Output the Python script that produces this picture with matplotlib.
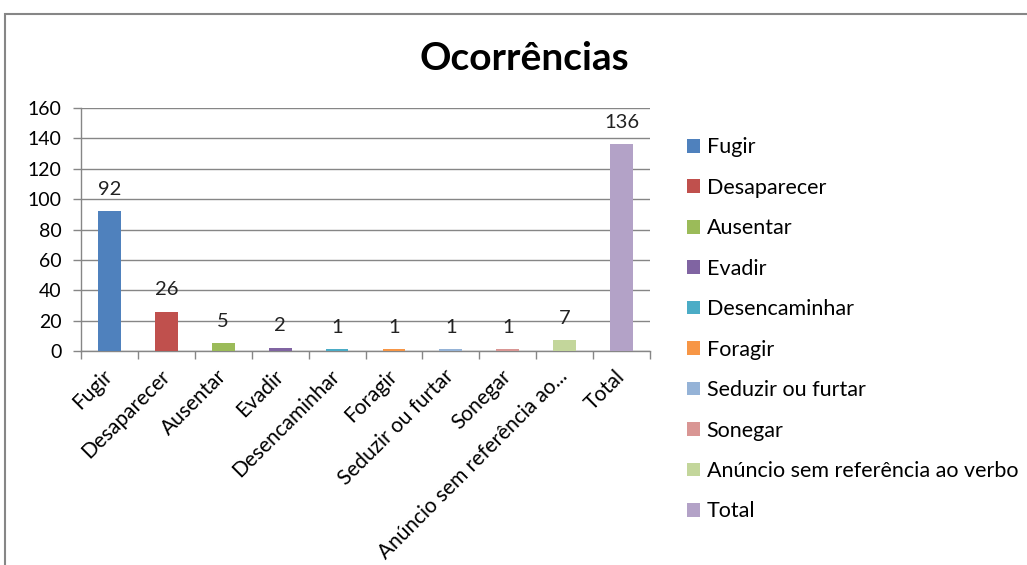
import matplotlib
matplotlib.use("Agg")
import matplotlib.pyplot as plt
from matplotlib.patches import Rectangle

categories = ["Fugir", "Desaparecer", "Ausentar", "Evadir", "Desencaminhar",
              "Foragir", "Seduzir ou furtar", "Sonegar",
              "Anúncio sem referência ao verbo", "Total"]
tick_labels = ["Fugir", "Desaparecer", "Ausentar", "Evadir", "Desencaminhar",
               "Foragir", "Seduzir ou furtar", "Sonegar",
               "Anúncio sem referência ao...", "Total"]
values = [92, 26, 5, 2, 1, 1, 1, 1, 7, 136]
colors = ["#4F81BD", "#C0504D", "#9BBB59", "#8064A2", "#4BACC6",
          "#F79646", "#95B3D7", "#D99694", "#C3D69B", "#B3A2C7"]
yticks = [0, 20, 40, 60, 80, 100, 120, 140, 160]

plt.rcParams['font.family'] = ['Lato', 'DejaVu Sans']

fig = plt.figure(figsize=(10.27, 5.65), dpi=100)
ax = fig.add_axes([81/1027, 1-351/565, (650-81)/1027, (351-108)/565])

# chart frame
fig.patches.append(Rectangle((5/1027, -0.05), 1.1, 1-14/565+0.05,
                             transform=fig.transFigure, fill=False,
                             edgecolor="#868686", linewidth=1.5))

x = list(range(len(categories)))
for i, (c, v, col) in enumerate(zip(categories, values, colors)):
    ax.bar(i, v, width=0.4, color=col, label=c, zorder=3)
    ax.text(i, v + 9, str(v), ha="center", va="bottom", fontsize=14.5, color="#222222")

ax.set_xlim(-0.5, len(categories) - 0.5)
ax.set_ylim(0, 160)
ax.set_yticks(yticks)
ax.set_yticklabels([str(t) for t in yticks], fontsize=14)
ax.yaxis.grid(True, color="#868686", linewidth=1, zorder=0)
ax.set_axisbelow(True)

ax.set_xticks([i - 0.5 for i in range(len(categories) + 1)], minor=False)
ax.set_xticklabels([])
ax.set_xticks(x, minor=True)
ax.set_xticklabels(tick_labels, minor=True, rotation=45, ha="right", va="center",
                   rotation_mode="anchor", fontsize=15)
ax.tick_params(axis="x", which="minor", length=0, pad=16)
ax.tick_params(axis="x", which="major", length=6, color="#868686", width=1)
ax.tick_params(axis="y", length=6, color="#868686", width=1, pad=8)

for s in ["top", "right"]:
    ax.spines[s].set_visible(False)
for s in ["left", "bottom"]:
    ax.spines[s].set_color("#868686")
    ax.spines[s].set_linewidth(1)

fig.text(524/1027, 1-58/565, "Ocorrências", ha="center", va="center",
         fontsize=28, fontweight="bold")

leg = fig.legend(loc="upper left", bbox_to_anchor=(668/1027, 1-118/565),
                 frameon=False, fontsize=15.5, handlelength=0.6, handleheight=0.6,
                 handletextpad=0.3, labelspacing=0.95)

fig.savefig("out.png", dpi=100)
